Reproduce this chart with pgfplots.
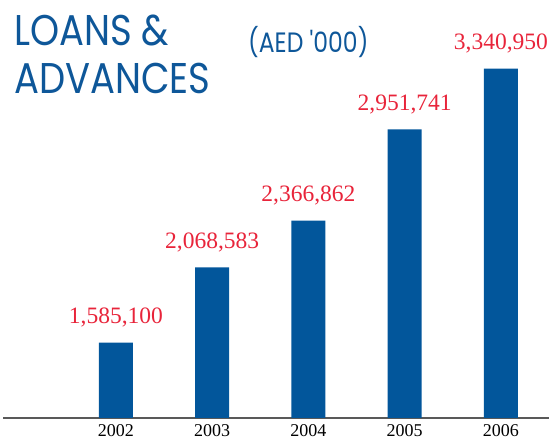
\documentclass[border=0pt]{standalone}
\usepackage{fontspec}
\setmainfont{Liberation Serif}
\newfontfamily\titlefont{Poppins}
\usepackage{pgfplots}
\usepackage{pgfplotstable}
\pgfplotsset{compat=1.18}

\definecolor{barblue}{HTML}{02569B}
\definecolor{titleblue}{HTML}{0E5799}
\definecolor{valred}{HTML}{E8243A}

\pgfplotstableread{
x y label
0 1585100 1,585,100
1 2068583 2,068,583
2 2366862 2,366,862
3 2951741 2,951,741
4 3340950 3,340,950
}\loans

\begin{document}
\begin{tikzpicture}
\useasboundingbox (0,0) rectangle (549pt,439pt);

\begin{axis}[
  at={(3pt,21pt)}, anchor=south west,
  scale only axis, width=546pt, height=418pt,
  xmin=-1.174, xmax=4.499,
  ymin=1102600, ymax=3781562,
  axis x line=bottom, hide y axis,
  x axis line style={-, draw=black!65, line width=1.3pt},
  xtick={0,1,2,3,4},
  xticklabels={2002,2003,2004,2005,2006},
  xtick style={draw=none},
  xticklabel style={anchor=base, yshift=-14pt, font=\fontsize{18}{20}\selectfont},
  ybar, bar width=34pt,
  nodes near coords,
  point meta=explicit symbolic,
  every node near coord/.append style={anchor=base, yshift=19pt, text=valred,
    font=\fontsize{23.5}{26}\selectfont},
]
\addplot[fill=barblue, draw=none] table[x=x, y=y, meta=label] {\loans};
\end{axis}

\node[anchor=base west, inner sep=0, text=titleblue, font=\titlefont\fontsize{43}{48}\selectfont] at (14pt,393pt) {\scalebox{0.86}[1]{LOANS \&}};
\node[anchor=base west, inner sep=0, text=titleblue, font=\titlefont\fontsize{43}{48}\selectfont] at (14pt,345pt) {\scalebox{0.86}[1]{ADVANCES}};
\node[anchor=base west, inner sep=0, text=titleblue, font=\titlefont\fontsize{28}{30}\selectfont] at (248pt,386pt) {\scalebox{0.84}[1]{(AED '000)}};
\end{tikzpicture}
\end{document}
